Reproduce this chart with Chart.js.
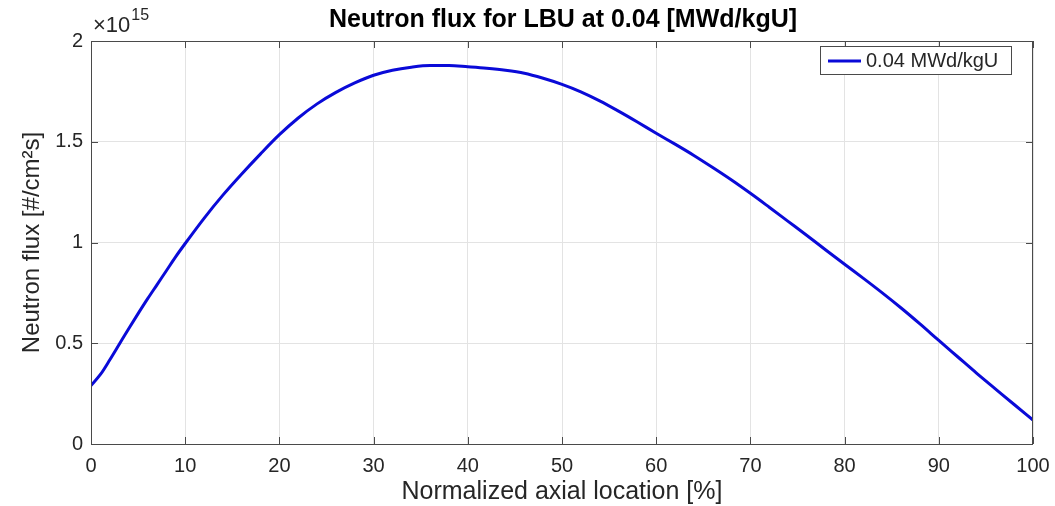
<!DOCTYPE html>
<html>
<head>
<meta charset="utf-8">
<script src="https://cdn.jsdelivr.net/npm/chart.js@4"></script>
<style>
  html, body { margin: 0; padding: 0; background: #fff; }
  #wrap { width: 1055px; height: 506px; }
</style>
</head>
<body>
<div id="wrap"><canvas id="chart" width="1055" height="506"></canvas></div>
<script>
// axial position [%] and neutron flux [x 1e15 #/cm^2 s]
const positions = [0, 1, 2, 3, 4, 5, 6, 7, 8, 9, 10, 12, 14, 16, 18, 20, 22, 24, 26, 28,
    30, 32, 34, 36, 38, 40, 42, 44, 46, 48, 50, 52, 54, 56, 58, 60, 62, 64, 66, 68,
    70, 72, 74, 76, 78, 80, 82, 84, 86, 88, 90, 92, 94, 96, 98, 100];
const fluxE15 = [0.290, 0.345, 0.418, 0.495, 0.572, 0.647, 0.720, 0.790, 0.860, 0.930,
    0.995, 1.120, 1.235, 1.340, 1.440, 1.535, 1.618, 1.688, 1.745, 1.792,
    1.830, 1.855, 1.870, 1.878, 1.878, 1.872, 1.865, 1.855, 1.840, 1.815,
    1.785, 1.748, 1.703, 1.652, 1.598, 1.542, 1.488, 1.432, 1.372, 1.310,
    1.244, 1.175, 1.105, 1.035, 0.963, 0.892, 0.822, 0.750, 0.675, 0.596,
    0.514, 0.433, 0.352, 0.274, 0.196, 0.119];
const xTicks = [0, 10, 20, 30, 40, 50, 60, 70, 80, 90, 100];
const yTicks = [0, 0.5, 1, 1.5, 2];
const seriesLabel = "0.04 MWd/kgU";
const titleText = "Neutron flux for LBU at 0.04 [MWd/kgU]";

const FONT = "'Liberation Sans', Arial, Helvetica, sans-serif";
const TEXT = "#262626";
const AXIS = "#4a4a4a";

// box, inward ticks, title, exponent and legend, MATLAB style
const decorations = {
    id: "decorations",
    afterDraw(chart) {
        const { ctx, chartArea: a, scales } = chart;
        ctx.save();
        ctx.strokeStyle = AXIS;
        ctx.lineWidth = 1;
        ctx.strokeRect(a.left + 0.5, a.top + 0.5, a.right - a.left - 1, a.bottom - a.top);
        ctx.beginPath();
        xTicks.forEach(v => {
            const x = Math.round(scales.x.getPixelForValue(v)) + 0.5;
            ctx.moveTo(x, a.bottom); ctx.lineTo(x, a.bottom - 7);
            ctx.moveTo(x, a.top); ctx.lineTo(x, a.top + 7);
        });
        yTicks.forEach(v => {
            const y = Math.round(scales.y.getPixelForValue(v)) + 0.5;
            ctx.moveTo(a.left, y); ctx.lineTo(a.left + 7, y);
            ctx.moveTo(a.right, y); ctx.lineTo(a.right - 7, y);
        });
        ctx.stroke();

        // title
        ctx.fillStyle = "#000";
        ctx.font = "bold 25px " + FONT;
        ctx.textAlign = "center";
        ctx.textBaseline = "alphabetic";
        ctx.fillText(titleText, 563, 27);

        // exponent
        ctx.fillStyle = TEXT;
        ctx.textAlign = "left";
        ctx.font = "22px " + FONT;
        ctx.fillText("\u00d710", a.left + 2, 32);
        const w = ctx.measureText("\u00d710").width;
        ctx.font = "16px " + FONT;
        ctx.fillText("15", a.left + 2 + w + 1, 20);

        // legend
        const ds = chart.data.datasets[0];
        const bx = 820, by = 46, bw = 191, bh = 28;
        ctx.fillStyle = "#fff";
        ctx.fillRect(bx, by, bw, bh);
        ctx.strokeStyle = AXIS;
        ctx.strokeRect(bx + 0.5, by + 0.5, bw, bh);
        ctx.strokeStyle = ds.borderColor;
        ctx.lineWidth = 3;
        ctx.beginPath();
        ctx.moveTo(bx + 8, by + bh / 2 + 1);
        ctx.lineTo(bx + 41, by + bh / 2 + 1);
        ctx.stroke();
        ctx.fillStyle = TEXT;
        ctx.font = "20px " + FONT;
        ctx.textBaseline = "middle";
        ctx.fillText(ds.label, bx + 46, by + bh / 2 + 1);
        ctx.restore();
    }
};

new Chart(document.getElementById("chart"), {
    type: "line",
    data: {
        datasets: [{
            label: seriesLabel,
            data: positions.map((p, i) => ({ x: p, y: fluxE15[i] })),
            borderColor: "#0a0ad8",
            borderWidth: 3,
            pointRadius: 0,
            fill: false,
            cubicInterpolationMode: "monotone"
        }]
    },
    options: {
        responsive: false,
        animation: false,
        layout: { padding: { left: 0, right: 22, top: 41, bottom: 0 } },
        plugins: {
            legend: { display: false },
            title: { display: false },
            tooltip: { enabled: false }
        },
        scales: {
            x: {
                type: "linear",
                min: 0, max: 100,
                afterFit: s => { s.height = 62; s.paddingLeft = 0; s.paddingRight = 0; },
                afterBuildTicks: s => { s.ticks = xTicks.map(v => ({ value: v })); },
                grid: { color: "#e3e3e3", drawTicks: false },
                border: { display: false },
                ticks: { color: TEXT, font: { family: FONT, size: 20 }, padding: 10, maxRotation: 0 },
                title: {
                    display: true,
                    text: "Normalized axial location [%]",
                    color: TEXT,
                    font: { family: FONT, size: 25, lineHeight: 1 },
                    padding: { top: 0, bottom: 1 }
                }
            },
            y: {
                min: 0, max: 2,
                afterFit: s => { s.width = 91; s.paddingTop = 0; s.paddingBottom = 0; },
                afterBuildTicks: s => { s.ticks = yTicks.map(v => ({ value: v })); },
                grid: { color: "#e3e3e3", drawTicks: false },
                border: { display: false },
                ticks: {
                    color: TEXT, font: { family: FONT, size: 20 }, padding: 8,
                    callback: v => String(v)
                },
                title: {
                    display: true,
                    text: "Neutron flux [#/cm\u00b2s]",
                    color: TEXT,
                    font: { family: FONT, size: 24, lineHeight: 1.2 },
                    padding: { top: 18, bottom: 0 }
                }
            }
        }
    },
    plugins: [decorations]
});
</script>
</body>
</html>
